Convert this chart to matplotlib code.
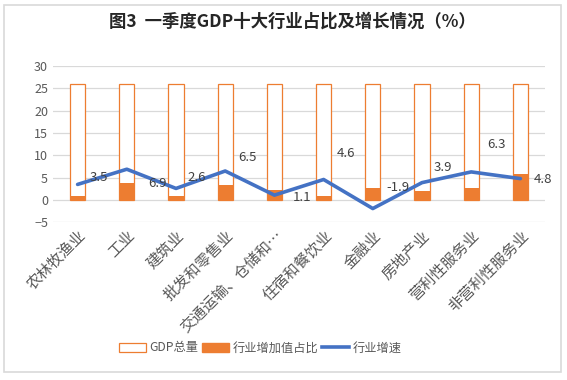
import matplotlib
matplotlib.use("Agg")
import matplotlib.pyplot as plt
from matplotlib.patches import Rectangle, Patch
from matplotlib.lines import Line2D
import numpy as np

plt.rcParams['font.family'] = ['Noto Sans CJK SC', 'DejaVu Sans']

categories = ['农林牧渔业', '工业', '建筑业', '批发和零售业', '交通运输、仓储和…',
              '住宿和餐饮业', '金融业', '房地产业', '营利性服务业', '非营利性服务业']
gdp_total = [26, 26, 26, 26, 26, 26, 26, 26, 26, 26]
share = [1.0, 3.9, 1.0, 3.4, 2.2, 1.0, 2.8, 2.1, 2.8, 5.9]
growth = [3.5, 6.9, 2.6, 6.5, 1.1, 4.6, -1.9, 3.9, 6.3, 4.8]

# label offsets in points (the labels sit off the line in the original)
label_dx = [15, 22, 15, 16, 20, 16, 18, 15, 18, 16]
label_dy = [5, -10, 8, 10, -2, 19, 15, 11, 20, -1]

orange = '#ED7D31'
blue = '#4472C4'

fig = plt.figure(figsize=(5.67, 3.8), dpi=100)
fig.patches.append(Rectangle((4 / 567, 1 - 372 / 380), 557 / 567, 367 / 380,
                             transform=fig.transFigure, fill=False,
                             edgecolor='#D9D9D9', lw=1.2))
ax = fig.add_axes([53 / 567, 1 - 222.4 / 380, 492 / 567, 156.4 / 380])

x = np.arange(len(categories))
w = 0.31
ax.bar(x, gdp_total, w, facecolor='white', edgecolor=orange, lw=0.9, zorder=2)
ax.bar(x, share, w, color=orange, lw=0, zorder=3)
ax.plot(x, growth, color=blue, lw=2.6, zorder=4, solid_capstyle='round')

for i, v in enumerate(growth):
    ax.annotate(f'{v}', (x[i], v), xytext=(label_dx[i], label_dy[i]),
                textcoords='offset points', ha='center', va='center',
                fontsize=9.5, color='#404040', zorder=5)

ax.set_xlim(-0.5, len(categories) - 0.5)
ax.set_ylim(-5, 30)
ax.set_yticks(range(-5, 31, 5))
ax.yaxis.grid(True, color='#D9D9D9', lw=0.9)
ax.set_axisbelow(True)
for s in ax.spines.values():
    s.set_visible(False)
ax.tick_params(axis='both', length=0, colors='#595959', labelsize=9)
ax.set_xticks(x)
ax.set_xticklabels(categories, rotation=45, ha='right', va='top',
                   rotation_mode='anchor', fontsize=11, color='#595959')

fig.text(0.515, 1 - 22 / 380, '图3  一季度GDP十大行业占比及增长情况（%）',
         ha='center', va='center', fontsize=12.5, fontweight='bold', color='#262626')

handles = [Patch(facecolor='white', edgecolor=orange, lw=0.9),
           Patch(facecolor=orange, edgecolor=orange),
           Line2D([], [], color=blue, lw=2.6)]
fig.legend(handles, ['GDP总量', '行业增加值占比', '行业增速'],
           loc='center', bbox_to_anchor=(260 / 567, 1 - 348 / 380), ncol=3,
           frameon=False, fontsize=8.8, handlelength=2.2, handleheight=0.8,
           columnspacing=0.3, handletextpad=0.3, labelcolor='#595959')

fig.savefig('out.png', dpi=100)
